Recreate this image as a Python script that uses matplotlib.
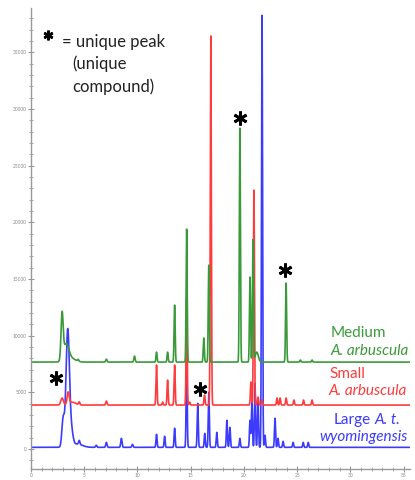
import numpy as np
import matplotlib
matplotlib.use("Agg")
import matplotlib.pyplot as plt
from matplotlib.ticker import MultipleLocator

# ---- data: peak tables (retention time [min], height above baseline, width) ----
green_base = 7670
green_t = [2.92, 3.30, 3.80, 4.43, 7.08, 9.72, 11.79, 12.83, 13.49, 14.62, 16.23, 16.70,
           19.62, 20.57, 20.85, 21.20, 23.96, 25.30, 26.40]
green_h = [3970, 1500, 300, 150, 260, 530, 880, 880, 5030, 11730, 2120, 8550,
           20640, 7500, 10760, 880, 6970, 180, 180]
green_w = [0.10, 0.25, 0.40, 0.06, 0.06, 0.06, 0.05, 0.05, 0.05, 0.05, 0.05, 0.05,
           0.05, 0.05, 0.05, 0.15, 0.05, 0.05, 0.05]

red_base = 3880
red_t = [2.92, 3.49, 3.90, 4.53, 7.08, 11.79, 12.36, 12.83, 13.49, 14.62, 14.90, 16.30,
         16.89, 20.66, 20.94, 21.32, 21.70, 23.11, 23.40, 23.96, 24.70, 25.60, 26.40]
red_h = [620, 1060, 250, 260, 350, 3530, 260, 2200, 3530, 9440, 260, 880,
         32550, 2030, 18960, 700, 440, 620, 620, 620, 440, 440, 440]
red_w = [0.12, 0.10, 0.30, 0.06, 0.06, 0.05, 0.05, 0.05, 0.05, 0.05, 0.05, 0.05,
         0.05, 0.05, 0.05, 0.06, 0.06, 0.05, 0.05, 0.05, 0.05, 0.05, 0.05]

blue_base = 150
blue_t = [3.02, 3.45, 3.80, 4.30, 4.53, 6.13, 7.08, 8.49, 9.53, 11.79, 12.55, 13.49,
          14.62, 15.66, 16.32, 16.70, 17.45, 18.40, 18.68, 19.62, 20.57, 20.75, 21.04,
          21.32, 21.70, 21.98, 22.92, 23.20, 23.68, 24.62, 25.57, 26.04]
blue_h = [2470, 10320, 1200, 300, 350, 180, 440, 790, 260, 1150, 970, 1680,
          7230, 3880, 1230, 4850, 1320, 2380, 1760, 790, 2380, 4150, 5640,
          4150, 38100, 1060, 2560, 790, 530, 440, 440, 440]
blue_w = [0.12, 0.16, 0.15, 0.50, 0.06, 0.06, 0.06, 0.06, 0.06, 0.05, 0.05, 0.05,
          0.05, 0.05, 0.05, 0.05, 0.05, 0.05, 0.05, 0.05, 0.05, 0.05, 0.05,
          0.05, 0.05, 0.05, 0.05, 0.05, 0.05, 0.05, 0.05, 0.05]

# unique-peak markers (time, intensity)
star_t = [19.64, 23.87, 2.35, 15.88]
star_y = [29190, 15790, 6260, 5290]

x_major = [0, 5, 10, 15, 20, 25, 30, 35]
y_major = [0, 5000, 10000, 15000, 20000, 25000, 30000, 35000]

GREEN = "#3a9a3a"
RED = "#ff3b3b"
BLUE = "#3b3bff"


def trace(base, ts, hs, ws, grid):
    y = np.full_like(grid, float(base))
    for t, h, w in zip(ts, hs, ws):
        y += h * np.exp(-0.5 * ((grid - t) / w) ** 2)
    return y


plt.rcParams["font.family"] = ["Lato", "DejaVu Sans"]

fig = plt.figure(figsize=(4.15, 4.80), dpi=100)
L, R, B, T = 31 / 415, 410 / 415, 11 / 480, 472 / 480
ax = fig.add_axes([L, B, R - L, T - B])

grid = np.linspace(0, 35.6, 12000)
ax.plot(grid, trace(blue_base, blue_t, blue_h, blue_w, grid), color=BLUE, lw=1.2)
ax.plot(grid, trace(red_base, red_t, red_h, red_w, grid), color=RED, lw=1.2)
ax.plot(grid, trace(green_base, green_t, green_h, green_w, grid), color=GREEN, lw=1.2)

ax.plot(star_t, star_y, linestyle="none", marker=(6, 2, 0), ms=10, mew=2.0,
        color="black")

ax.set_xlim(0, 35.6)
ax.set_ylim(-1760, 38900)
ax.set_xticks(x_major)
ax.set_yticks(y_major)
ax.xaxis.set_minor_locator(MultipleLocator(1))
ax.yaxis.set_minor_locator(MultipleLocator(1000))
ax.tick_params(which="major", direction="inout", length=4, width=0.8, color="#999999",
               labelsize=3.5, labelcolor="#888888", pad=1)
ax.tick_params(which="minor", direction="inout", length=2.5, width=0.6, color="#999999")
for s in ["top", "right"]:
    ax.spines[s].set_visible(False)
for s in ["left", "bottom"]:
    ax.spines[s].set_color("#999999")
    ax.spines[s].set_linewidth(1.0)


def px(x, y):
    return x / 415, 1 - y / 480


# legend annotation (top-left)
ax.plot([px(48, 35)[0]], [px(48, 35)[1]], transform=fig.transFigure, marker=(6, 2, 0),
        ms=7, mew=1.8, color="black", linestyle="none", clip_on=False)
fig.text(*px(62, 42), "= unique peak", fontsize=12, va="center", ha="left", color="#222222")
fig.text(*px(72, 64), "(unique", fontsize=12, va="center", ha="left", color="#222222")
fig.text(*px(72, 87), "compound)", fontsize=12, va="center", ha="left", color="#222222")

# series labels
fig.text(*px(331, 333), "Medium", fontsize=11, va="center", ha="left", color=GREEN)
fig.text(*px(330, 351), "A. arbuscula", fontsize=11, va="center", ha="left",
         color=GREEN, style="italic")
fig.text(*px(329, 374), "Small", fontsize=11, va="center", ha="left", color=RED)
fig.text(*px(328, 391), "A. arbuscula", fontsize=11, va="center", ha="left",
         color=RED, style="italic")
fig.text(*px(334, 420), "Large", fontsize=11, va="center", ha="left", color=BLUE)
fig.text(*px(374, 420), "A. t.", fontsize=11, va="center", ha="left", color=BLUE,
         style="italic")
fig.text(*px(319, 437), "wyomingensis", fontsize=11, va="center", ha="left", color=BLUE,
         style="italic")

fig.savefig("out.png", dpi=100)
